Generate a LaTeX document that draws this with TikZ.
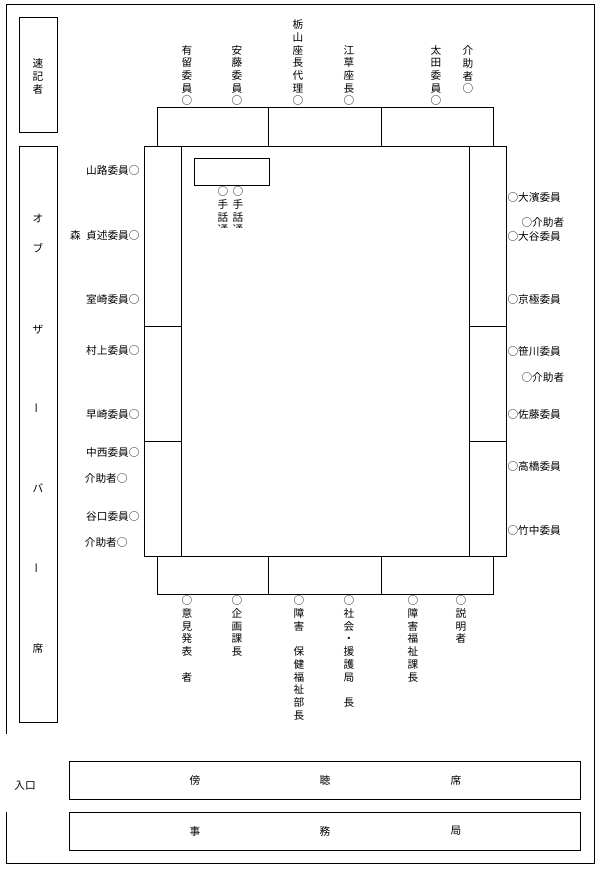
\documentclass[tikz,border=0pt]{standalone}
\usepackage{fontspec}
\newfontfamily\jpfont{Noto Sans CJK JP}
\tikzset{
  lbl/.style={font=\jpfont\fontsize{8}{9.525}\selectfont, inner sep=0pt},
  vcol/.style={lbl, align=center, anchor=north},
  lseat/.style={lbl, anchor=base east},
  rseat/.style={lbl, anchor=base west}
}
\begin{document}
\begin{tikzpicture}[x=0.75pt,y=-0.75pt,line width=0.75pt]
\useasboundingbox (0,0) rectangle (600,870);
\draw (6,734) -- (6,5) -- (594,5) -- (594,863) -- (6,863) -- (6,812);
\draw (19,18) rectangle (57,133)
      (19,147) rectangle (57,722)
      (69,761) rectangle (580,799)
      (69,812) rectangle (580,850);
\draw (157,108) rectangle (493,147)
      (268,108) -- (268,147)
      (381,108) -- (381,147);
\draw (144,147) rectangle (506,556)
      (181,147) -- (181,556)
      (469,147) -- (469,556)
      (144,326) -- (181,326) (144,441) -- (181,441)
      (469,326) -- (506,326) (469,441) -- (506,441);
\draw (157,556) rectangle (493,594)
      (268,556) -- (268,594)
      (381,556) -- (381,594);
\draw (194,159) rectangle (269,185);

\node[vcol] (sokki) at (38,58.5) {速\\記\\者};
\foreach \c/\y/\r [count=\i] in {オ/218/0,ブ/248/0,ザ/330/0,ー/408/90,バ/488/0,ー/568/90,席/648/0}
  \node[lbl, rotate=\r] (obs\i) at (38,\y) {\c};
\node[lbl] (nyuguchi) at (25,786) {入口};
\node[lbl] (bo) at (195,780) {傍};
\node[lbl] (cho) at (325,780) {聴};
\node[lbl] (seki) at (456,780) {席};
\node[lbl] (ji) at (195,831) {事};
\node[lbl] (mu) at (325,831) {務};
\node[lbl] (kyoku) at (456,831) {局};

\node[vcol] (arido) at (187,44.7) {有\\留\\委\\員\\○};
\node[vcol] (ando) at (237,44.7) {安\\藤\\委\\員\\○};
\node[vcol] (tochiyama) at (298,19.3) {栃\\山\\座\\長\\代\\理\\○};
\node[vcol] (egusa) at (349,44.7) {江\\草\\座\\長\\○};
\node[vcol] (ota) at (436,44.7) {太\\田\\委\\員\\○};
\node[vcol] (kaijoA) at (468,45.4) {介\\助\\者\\○};

\begin{scope}
  \clip (200,180) rectangle (260,227);
  \node[vcol] (shuwaA) at (223,186.5) {○\\手\\話\\通};
  \node[vcol] (shuwaB) at (238,186.5) {○\\手\\話\\通};
\end{scope}

\node[lseat] (yamaji) at (140,175) {山路委員○};
\node[lseat] (mori) at (140,239) {森\hspace{0.5em}貞述委員○};
\node[lseat] (murosaki) at (140,303) {室崎委員○};
\node[lseat] (murakami) at (140,354) {村上委員○};
\node[lseat] (hayasaki) at (140,418) {早崎委員○};
\node[lseat] (nakanishi) at (140,456) {中西委員○};
\node[lseat] (kaijoB) at (128,482) {介助者○};
\node[lseat] (taniguchi) at (140,520) {谷口委員○};
\node[lseat] (kaijoC) at (128,546) {介助者○};

\node[rseat] (ohama) at (507,201) {○大濱委員};
\node[rseat] (kaijoD) at (521,226) {○介助者};
\node[rseat] (otani) at (507,240) {○大谷委員};
\node[rseat] (kyogoku) at (507,303) {○京極委員};
\node[rseat] (sasagawa) at (507,355) {○笹川委員};
\node[rseat] (kaijoE) at (521,381) {○介助者};
\node[rseat] (sato) at (507,418) {○佐藤委員};
\node[rseat] (takahashi) at (507,470) {○高橋委員};
\node[rseat] (takenaka) at (507,534) {○竹中委員};

\node[vcol] (iken) at (187,595.5) {○\\意\\見\\発\\表\\　\\者};
\node[vcol] (kikaku) at (237,595.5) {○\\企\\画\\課\\長};
\node[vcol] (hoken) at (299,595.5) {○\\障\\害\\　\\保\\健\\福\\祉\\部\\長};
\node[vcol] (engo) at (349,595.5) {○\\社\\会\\・\\援\\護\\局\\　\\長};
\node[vcol] (fukushi) at (413,595.5) {○\\障\\害\\福\\祉\\課\\長};
\node[vcol] (setsumei) at (461,595.5) {○\\説\\明\\者};
\end{tikzpicture}
\end{document}
